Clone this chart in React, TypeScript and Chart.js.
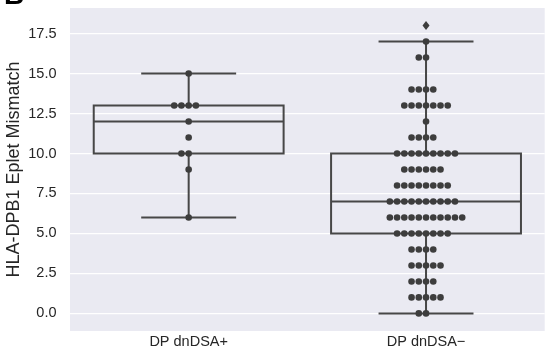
import React, { useEffect, useRef } from 'react';
import { Chart, registerables } from 'chart.js';

Chart.register(...registerables);

const categories = ['DP dnDSA+', 'DP dnDSA\u2212'];
const dnDSAPositive = [15, 13, 13, 13, 13, 12, 11, 10, 10, 9, 6];
const dnDSANegative = [
  18, 17, 16, 16,
  14, 14, 14, 14,
  13, 13, 13, 13, 13, 13, 13,
  12,
  11, 11, 11, 11,
  10, 10, 10, 10, 10, 10, 10, 10, 10,
  9, 9, 9, 9, 9, 9,
  8, 8, 8, 8, 8, 8, 8, 8,
  7, 7, 7, 7, 7, 7, 7, 7, 7, 7,
  6, 6, 6, 6, 6, 6, 6, 6, 6, 6, 6,
  5, 5, 5, 5, 5, 5, 5, 5,
  4, 4, 4, 4,
  3, 3, 3, 3, 3,
  2, 2, 2, 2,
  1, 1, 1, 1, 1,
  0, 0,
];
const groups = [dnDSAPositive, dnDSANegative];
const yTicks = [0, 2.5, 5, 7.5, 10, 12.5, 15, 17.5];
const yAxisTitle = 'HLA-DPB1 Eplet Mismatch';
const panelLabel = 'B';

const FONT = '"Liberation Sans", Arial, Helvetica, sans-serif';
const BG = '#EAEAF2';
const LINE = '#474747';
const DOT = '#3d3d3d';
const TEXT = '#262626';
const SWARM_STEP = 0.0305; // swarm spacing in category units
const BOX_HALF = 0.4;
const CAP_HALF = 0.2;
const DOT_R = 3.3;

function quantile(sorted: number[], p: number) {
  const pos = p * (sorted.length - 1);
  const lo = Math.floor(pos);
  const hi = Math.ceil(pos);
  return sorted[lo] + (sorted[hi] - sorted[lo]) * (pos - lo);
}

function boxStats(values: number[]) {
  const s = [...values].sort((a, b) => a - b);
  const q1 = quantile(s, 0.25);
  const med = quantile(s, 0.5);
  const q3 = quantile(s, 0.75);
  const iqr = q3 - q1;
  const inside = s.filter((v) => v >= q1 - 1.5 * iqr && v <= q3 + 1.5 * iqr);
  const fliers = s.filter((v) => v < q1 - 1.5 * iqr || v > q3 + 1.5 * iqr);
  return { q1, med, q3, lo: inside[0], hi: inside[inside.length - 1], fliers };
}

function swarmPoints(values: number[], center: number) {
  const seen = new Map<number, number>();
  return values.map((v) => {
    const k = seen.get(v) ?? 0;
    seen.set(v, k + 1);
    const slot = k === 0 ? 0 : k % 2 === 1 ? -(k + 1) / 2 : k / 2;
    return { x: center + slot * SWARM_STEP, y: v };
  });
}

const stats = groups.map(boxStats);

const backgroundPlugin = {
  id: 'bg',
  beforeDraw(chart: any) {
    const { ctx, chartArea } = chart;
    ctx.save();
    ctx.fillStyle = BG;
    ctx.fillRect(chartArea.left, chartArea.top, chartArea.right - chartArea.left, chartArea.bottom - chartArea.top);
    ctx.restore();
  },
};

const boxPlugin = {
  id: 'boxes',
  beforeDatasetsDraw(chart: any) {
    const { ctx } = chart;
    const xs = chart.scales.x;
    const ys = chart.scales.y;
    ctx.save();
    ctx.strokeStyle = LINE;
    ctx.lineWidth = 2;
    ctx.lineCap = 'butt';
    stats.forEach((st, i) => {
      const xl = xs.getPixelForValue(i - BOX_HALF);
      const xr = xs.getPixelForValue(i + BOX_HALF);
      const xc = xs.getPixelForValue(i);
      const cl = xs.getPixelForValue(i - CAP_HALF);
      const cr = xs.getPixelForValue(i + CAP_HALF);
      const yq1 = ys.getPixelForValue(st.q1);
      const yq3 = ys.getPixelForValue(st.q3);
      const ymed = ys.getPixelForValue(st.med);
      const ylo = ys.getPixelForValue(st.lo);
      const yhi = ys.getPixelForValue(st.hi);
      ctx.beginPath();
      ctx.rect(xl, yq3, xr - xl, yq1 - yq3);
      ctx.moveTo(xl, ymed);
      ctx.lineTo(xr, ymed);
      ctx.moveTo(xc, yq3);
      ctx.lineTo(xc, yhi);
      ctx.moveTo(xc, yq1);
      ctx.lineTo(xc, ylo);
      ctx.moveTo(cl, yhi);
      ctx.lineTo(cr, yhi);
      ctx.moveTo(cl, ylo);
      ctx.lineTo(cr, ylo);
      ctx.stroke();
    });
    ctx.restore();
  },
  afterDatasetsDraw(chart: any) {
    const { ctx } = chart;
    const xs = chart.scales.x;
    const ys = chart.scales.y;
    ctx.save();
    ctx.fillStyle = DOT;
    stats.forEach((st, i) => {
      st.fliers.forEach((f) => {
        const x = xs.getPixelForValue(i);
        const y = ys.getPixelForValue(f);
        ctx.beginPath();
        ctx.moveTo(x, y - 4.5);
        ctx.lineTo(x + 3.5, y);
        ctx.lineTo(x, y + 4.5);
        ctx.lineTo(x - 3.5, y);
        ctx.closePath();
        ctx.fill();
      });
    });
    ctx.restore();
  },
  afterDraw(chart: any) {
    const { ctx } = chart;
    ctx.save();
    ctx.fillStyle = '#000';
    ctx.font = `bold 28px ${FONT}`;
    ctx.textBaseline = 'alphabetic';
    ctx.textAlign = 'left';
    ctx.fillText(panelLabel, 4, 4);
    ctx.restore();
  },
};

export default function App() {
  const ref = useRef<HTMLCanvasElement>(null);
  useEffect(() => {
    const chart = new Chart(ref.current as HTMLCanvasElement, {
      type: 'scatter',
      data: {
        datasets: groups.map((g, i) => ({
          label: categories[i],
          data: swarmPoints(g, i),
          // points that are box-plot fliers are shown by the flier diamond
          pointRadius: g.map((v) => (stats[i].fliers.includes(v) ? 0 : DOT_R)),
          pointHoverRadius: DOT_R,
          pointBackgroundColor: DOT,
          pointBorderWidth: 0,
          borderWidth: 0,
          showLine: false,
        })),
      },
      options: {
        animation: false,
        responsive: false,
        events: [],
        layout: { padding: { left: 0, right: 0, top: 8, bottom: 0 } },
        plugins: {
          legend: { display: false },
          tooltip: { enabled: false },
        },
        scales: {
          x: {
            type: 'linear',
            min: -0.5,
            max: 1.5,
            afterBuildTicks: (scale: any) => {
              scale.ticks = categories.map((_, i) => ({ value: i }));
            },
            afterFit: (scale: any) => {
              scale.height = 27;
              scale.paddingLeft = 0;
              scale.paddingRight = 0;
            },
            grid: { display: false, drawTicks: false },
            border: { display: false },
            ticks: {
              padding: 2,
              color: TEXT,
              font: { family: FONT, size: 14.5 },
              maxRotation: 0,
              callback: (v: any) => categories[Math.round(Number(v))] ?? '',
            },
          },
          y: {
            type: 'linear',
            min: -1.1,
            max: 19.1,
            afterBuildTicks: (scale: any) => {
              scale.ticks = yTicks.map((v) => ({ value: v }));
            },
            afterFit: (scale: any) => {
              scale.width = 70;
              scale.paddingTop = 0;
              scale.paddingBottom = 0;
            },
            grid: { color: '#ffffff', lineWidth: 1.3, drawTicks: false },
            border: { display: false },
            ticks: {
              padding: 13.5,
              color: TEXT,
              font: { family: FONT, size: 14.5 },
              callback: (v: any) => Number(v).toFixed(1),
            },
            title: {
              display: true,
              text: yAxisTitle,
              color: TEXT,
              font: { family: FONT, size: 18 },
              padding: { top: 3.7, bottom: 0 },
            },
          },
        },
      },
      plugins: [backgroundPlugin, boxPlugin],
    });
    return () => chart.destroy();
  }, []);
  return (
    <div style={{ position: 'fixed', left: 0, top: 0, width: 548, height: 358, background: '#fff' }}>
      <canvas ref={ref} width={548} height={358} style={{ display: 'block', width: 548, height: 358 }} />
    </div>
  );
}
